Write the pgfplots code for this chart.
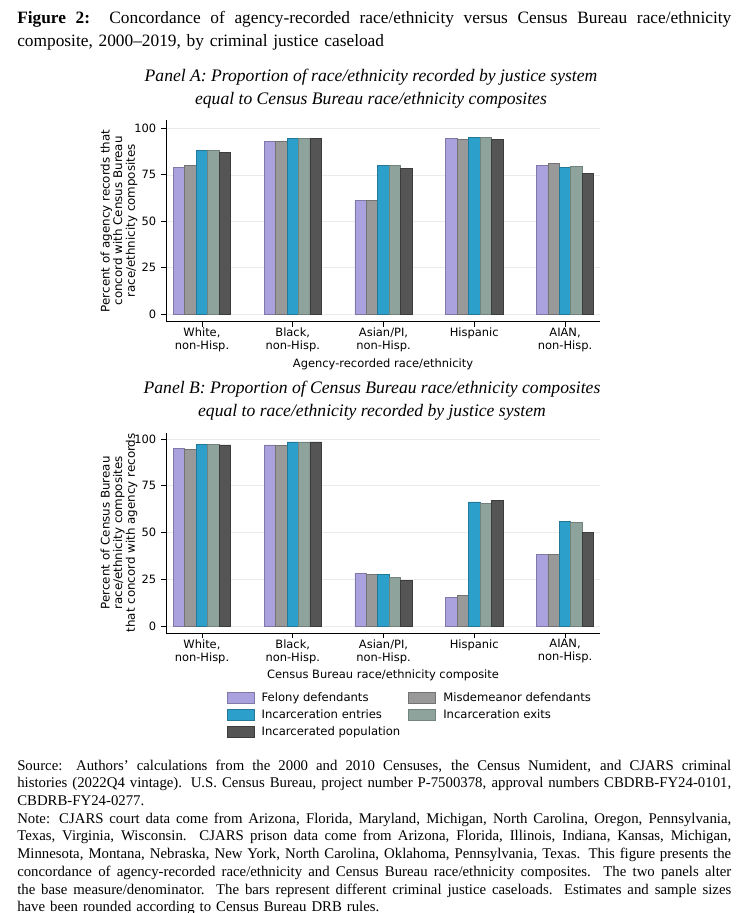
\documentclass[border=0pt]{standalone}
\usepackage{pgfplots}
\pgfplotsset{compat=1.18}
\usepackage{fontspec}
\setmainfont{Liberation Serif}
\newfontfamily\plotfont{DejaVu Sans}

\definecolor{felony}{RGB}{170,162,222}
\definecolor{misdem}{RGB}{153,153,153}
\definecolor{entries}{RGB}{44,160,202}
\definecolor{exits}{RGB}{142,163,155}
\definecolor{popul}{RGB}{85,85,85}

% one justified line of the caption or the note
\newcommand\jl[1]{\makebox[535.5pt][s]{\spaceskip=0pt\xspaceskip=0pt #1}\\}

\pgfplotsset{
  panel/.style={
    scale only axis, width=325.5pt, anchor=south west,
    xmin=-0.396, xmax=4.385,
    axis x line*=bottom, axis y line*=left,
    axis line style={black, line width=0.6pt},
    tick style={black, line width=0.6pt},
    tick align=outside, major tick length=3.75pt,
    /pgf/number format/assume math mode=true,
    xtick={0,1,2,3,4},
    xticklabels={{White,\\non-Hisp.},{Black,\\non-Hisp.},{Asian/PI,\\non-Hisp.},{Hispanic},{AIAN,\\non-Hisp.}},
    x tick label style={align=center, yshift=2.5pt, font=\plotfont\fontsize{8.6}{9.75}\selectfont},
    ytick={0,25,50,75,100},
    y tick label style={font=\plotfont\fontsize{8.6}{9.75}\selectfont},
    ylabel style={align=center, font=\plotfont\fontsize{8.9}{9.4}\selectfont},
    ylabel shift=-9pt,
    xlabel style={font=\plotfont\fontsize{8.6}{9.75}\selectfont},
    xlabel shift=-2.3pt,
    ymajorgrids, grid style={black!8, line width=0.5pt},
    ybar, bar width=0.126,
    every axis plot/.append style={line width=0.5pt},
    felony/.style={fill=felony, draw=felony!75!black, bar shift=-0.252},
    misdem/.style={fill=misdem, draw=misdem!75!black, bar shift=-0.126},
    entries/.style={fill=entries, draw=entries!75!black, bar shift=0},
    exits/.style={fill=exits, draw=exits!80!black, bar shift=0.126},
    popul/.style={fill=popul, draw=popul!70!black, bar shift=0.252},
  }
}

\begin{document}
\begin{tikzpicture}
\useasboundingbox (0,0) rectangle (561pt,-684.75pt);

\begin{scope}[x=0.75pt,y=-0.75pt]
% caption
\node[anchor=base west, inner sep=0, text width=535.5pt, align=left,
      font=\fontsize{13}{17.25}\selectfont] at (17,23.5)
  {\jl{\textbf{Figure 2:}\ \ Concordance of agency-recorded race/ethnicity versus Census Bureau race/ethnicity}
   composite, 2000--2019, by criminal justice caseload};
% panel titles
\begin{scope}[every node/.style={anchor=base, inner sep=0, font=\itshape\fontsize{13.2}{16}\selectfont}]
\node at (371,82)  {Panel A: Proportion of race/ethnicity recorded by justice system};
\node at (371,105) {equal to Census Bureau race/ethnicity composites};
\node at (372,393) {Panel B: Proportion of Census Bureau race/ethnicity composites};
\node at (372,416) {equal to race/ethnicity recorded by justice system};
\end{scope}
% source and note
\node[anchor=base west, inner sep=0, text width=535.5pt, align=left,
      font=\fontsize{11.1}{13.3}\selectfont] at (17,770)
  {\jl{Source:  Authors' calculations from the 2000 and 2010 Censuses, the Census Numident, and CJARS criminal}
   \jl{histories (2022Q4 vintage). U.S. Census Bureau, project number P-7500378, approval numbers CBDRB-FY24-0101,}
   CBDRB-FY24-0277.\\
   \jl{Note: CJARS court data come from Arizona, Florida, Maryland, Michigan, North Carolina, Oregon, Pennsylvania,}
   \jl{Texas, Virginia, Wisconsin.  CJARS prison data come from Arizona, Florida, Illinois, Indiana, Kansas, Michigan,}
   \jl{Minnesota, Montana, Nebraska, New York, North Carolina, Oklahoma, Pennsylvania, Texas. This figure presents the}
   \jl{concordance of agency-recorded race/ethnicity and Census Bureau race/ethnicity composites.  The two panels alter}
   \jl{the base measure/denominator.  The bars represent different criminal justice caseloads.  Estimates and sample sizes}
   have been rounded according to Census Bureau DRB rules.};
\end{scope}

% Panel A
\begin{axis}[panel, at={(124.5pt,-241.3pt)}, height=151.3pt,
  ymin=-4, ymax=104.5,
  xlabel={Agency-recorded race/ethnicity},
  ylabel={Percent of agency records that\\concord with Census Bureau\\race/ethnicity composites}]
\addplot[felony]  coordinates {(0,79.0) (1,93.0) (2,61.3) (3,94.4) (4,80.1)};
\addplot[misdem]  coordinates {(0,79.9) (1,92.8) (2,61.3) (3,94.2) (4,81.2)};
\addplot[entries] coordinates {(0,88.2) (1,94.4) (2,79.9) (3,95.0) (4,79.2)};
\addplot[exits]   coordinates {(0,88.2) (1,94.4) (2,79.9) (3,95.0) (4,79.6)};
\addplot[popul]   coordinates {(0,87.1) (1,94.6) (2,78.5) (3,94.1) (4,75.8)};
\end{axis}

% Panel B
\begin{axis}[panel, at={(124.5pt,-474.75pt)}, height=150.3pt,
  ymin=-3.74, ymax=103.4,
  xlabel={Census Bureau race/ethnicity composite},
  ylabel={Percent of Census Bureau\\race/ethnicity composites\\that concord with agency records},
  legend columns=2,
  legend cell align=left,
  legend style={at={(0.13,-0.27)}, anchor=north west, draw=none,
    font=\plotfont\fontsize{8.7}{9.75}\selectfont, row sep=0.5pt,
    /tikz/every odd column/.append style={column sep=3.5pt},
    /tikz/every even column/.append style={column sep=4pt}},
  legend image code/.code={\draw[#1] (0pt,-4.1pt) rectangle (20.25pt,4.1pt);}]
\addplot[felony]  coordinates {(0,95.0) (1,96.8) (2,28.2) (3,15.2) (4,38.4)};
\addplot[misdem]  coordinates {(0,94.6) (1,96.4) (2,27.7) (3,16.3) (4,38.4)};
\addplot[entries] coordinates {(0,97.3) (1,98.4) (2,27.7) (3,66.3) (4,56.1)};
\addplot[exits]   coordinates {(0,97.3) (1,98.4) (2,26.1) (3,65.5) (4,55.5)};
\addplot[popul]   coordinates {(0,96.8) (1,98.4) (2,24.5) (3,67.3) (4,50.2)};
\legend{Felony defendants, Misdemeanor defendants, Incarceration entries, Incarceration exits, Incarcerated population}
\end{axis}
\end{tikzpicture}
\end{document}
